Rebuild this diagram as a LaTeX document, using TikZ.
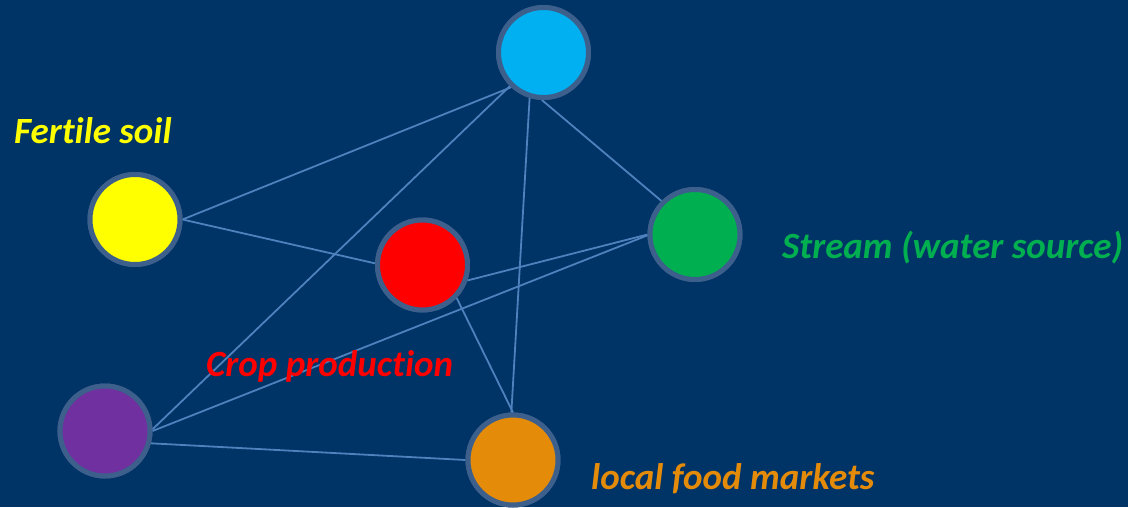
\documentclass[tikz,border=0pt]{standalone}
\usepackage{fontspec}
\setmainfont{Carlito}[Ligatures=NoCommon]
\definecolor{bg}{RGB}{0,51,102}
\definecolor{edgec}{RGB}{79,129,189}
\definecolor{rimc}{RGB}{60,95,140}
\definecolor{cblue}{RGB}{0,176,240}
\definecolor{cyellow}{RGB}{255,255,0}
\definecolor{cred}{RGB}{255,0,0}
\definecolor{cgreen}{RGB}{0,176,80}
\definecolor{cpurple}{RGB}{112,48,160}
\definecolor{corange}{RGB}{228,139,10}
\begin{document}
\begin{tikzpicture}[x=1pt,y=-1pt,
  dot/.style={circle,draw=rimc,line width=5pt,minimum size=90pt,inner sep=0pt},
  link/.style={draw=edgec,line width=1.8pt},
  lbl/.style={anchor=base west,inner sep=0pt,font=\fontsize{37}{44}\selectfont\bfseries\itshape}]
\fill[bg] (0,0) rectangle (1128,507);
\useasboundingbox (0,0) rectangle (1128,507);
\path (543.5,52.5) coordinate (pw) (135,219.5) coordinate (ps) (422.5,265) coordinate (pc)
      (695,234.5) coordinate (pt) (105,431) coordinate (pp) (513,460) coordinate (pm);
\node[dot] (water) at (pw) {};
\node[dot] (soil) at (ps) {};
\node[dot] (crop) at (pc) {};
\node[dot] (stream) at (pt) {};
\node[dot] (people) at (pp) {};
\node[dot] (market) at (pm) {};
\path[link] (soil.0) -- (water.227);
\path[link] (people.2) -- (water.225);
\path[link] (water.253) -- (market.92);
\path[link] (water.268) -- (stream.135);
\path[link] (soil.0) -- (crop.178);
\path[link] (crop.-19) -- (stream.180);
\path[link] (crop.-44) -- (market.90);
\path[link] (people.0) -- (stream.181);
\path[link] (people.-15) -- (market.180);
\node[dot,fill=cblue] at (pw) {};
\node[dot,fill=cyellow] at (ps) {};
\node[dot,fill=cred] at (pc) {};
\node[dot,fill=cgreen] at (pt) {};
\node[dot,fill=cpurple] at (pp) {};
\node[dot,fill=corange] at (pm) {};
\node[lbl,text=cyellow] (tsoil) at (14,143.5) {Fertile soil};
\node[lbl,text=cgreen] (tstream) at (782,258.5) {Stream (water source)};
\node[lbl,text=cred] (tcrop) at (206,376.5) {Crop production};
\node[lbl,text=corange] (tmarket) at (591,489.5) {local food markets};
\end{tikzpicture}
\end{document}
